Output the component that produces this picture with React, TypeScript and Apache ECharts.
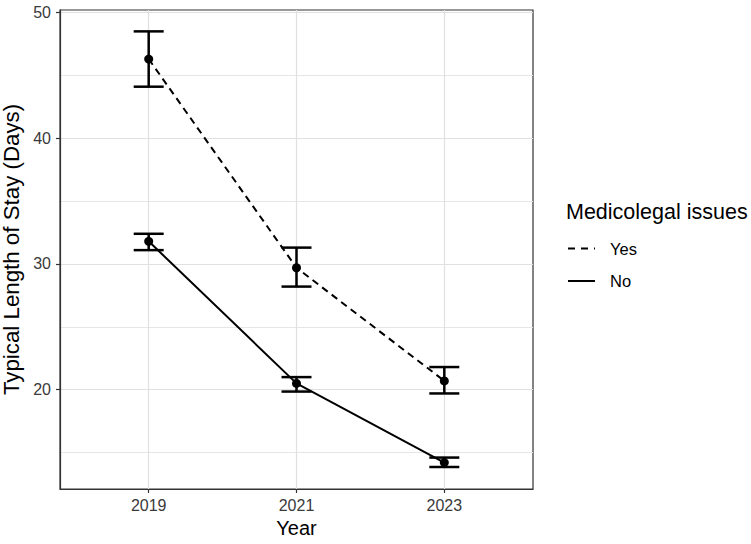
import React, { useEffect, useRef } from "react";
import * as echarts from "echarts";

const YEARS = [2019, 2021, 2023];
const YES_MEAN = [46.3, 29.7, 20.7];
const YES_LO = [44.1, 28.2, 19.7];
const YES_HI = [48.5, 31.3, 21.8];
const NO_MEAN = [31.8, 20.5, 14.2];
const NO_LO = [31.1, 19.85, 13.85];
const NO_HI = [32.4, 21.0, 14.6];
const Y_MAJOR = [20, 30, 40, 50];
const Y_MINOR = [15, 25, 35, 45];
const LEGEND_TITLE = "Medicolegal issues";
const GROUPS = ["Yes", "No"];

const FONT = "'Liberation Sans', Arial, Helvetica, sans-serif";

export default function App() {
  const ref = useRef<HTMLDivElement>(null);
  useEffect(() => {
    const chart = echarts.init(ref.current!, null, { renderer: "svg" });
    const errData = [
      ...YEARS.map((y, i) => [y, YES_LO[i], YES_HI[i]]),
      ...YEARS.map((y, i) => [y, NO_LO[i], NO_HI[i]]),
    ];
    const gridLines = [
      ...Y_MAJOR.map((v) => ({ yAxis: v, lineStyle: { color: "#e0e0e0", width: 1.2, type: "solid" } })),
      ...Y_MINOR.map((v) => ({ yAxis: v, lineStyle: { color: "#e6e6e6", width: 1, type: "solid" } })),
      ...YEARS.map((v) => ({ xAxis: v, lineStyle: { color: "#e0e0e0", width: 1.2, type: "solid" } })),
    ];
    const axisCommon = {
      axisLine: { show: true, lineStyle: { color: "#333333", width: 1.2 } },
      splitLine: { show: false },
    };
    chart.setOption({
      animation: false,
      backgroundColor: "#ffffff",
      grid: {
        left: 60,
        top: 10,
        right: 218,
        bottom: 55,
        containLabel: false,
        outerBoundsMode: "none",
        show: true,
        borderColor: "#333333",
        borderWidth: 1.2,
        backgroundColor: "transparent",
      },
      xAxis: {
        type: "value",
        min: 2017.8,
        max: 2024.2,
        name: "Year",
        nameLocation: "middle",
        nameGap: 28,
        nameTextStyle: { fontFamily: FONT, fontSize: 20, color: "#000" },
        ...axisCommon,
        axisTick: { show: true, length: 4, customValues: YEARS, lineStyle: { color: "#333", width: 1.2 } },
        axisLabel: { customValues: YEARS, margin: 8, fontFamily: FONT, fontSize: 16, color: "#3a3a3a", formatter: (v: number) => String(v) },
      },
      yAxis: {
        type: "value",
        min: 12.1,
        max: 50.2,
        name: "Typical Length of Stay (Days)",
        nameLocation: "middle",
        nameGap: 36,
        nameTextStyle: { fontFamily: FONT, fontSize: 22.3, color: "#000" },
        ...axisCommon,
        axisTick: { show: true, length: 4, customValues: Y_MAJOR, lineStyle: { color: "#333", width: 1.2 } },
        axisLabel: { customValues: Y_MAJOR, margin: 9, fontFamily: FONT, fontSize: 16, color: "#3a3a3a" },
      },
      series: [
        {
          type: "line",
          data: [],
          z: 0,
          silent: true,
          markLine: {
            z: 0,
            silent: true,
            symbol: ["none", "none"],
            label: { show: false },
            animation: false,
            data: gridLines,
          },
        },
        {
          type: "custom",
          z: 3,
          data: errData,
          renderItem: (params: any, api: any) => {
            const x = api.value(0);
            const lo = api.coord([x, api.value(1)]);
            const hi = api.coord([x, api.value(2)]);
            const w = 15;
            const mk = () => ({ stroke: "#000000", lineWidth: 2.5 });
            return {
              type: "group",
              children: [
                { type: "line", shape: { x1: lo[0], y1: lo[1], x2: hi[0], y2: hi[1] }, style: mk() },
                { type: "line", shape: { x1: lo[0] - w, y1: lo[1], x2: lo[0] + w, y2: lo[1] }, style: mk() },
                { type: "line", shape: { x1: hi[0] - w, y1: hi[1], x2: hi[0] + w, y2: hi[1] }, style: mk() },
              ],
            };
          },
        },
        {
          type: "line",
          name: GROUPS[0],
          z: 4,
          data: YEARS.map((y, i) => [y, YES_MEAN[i]]),
          symbol: "circle",
          symbolSize: 9,
          itemStyle: { color: "#000" },
          lineStyle: { color: "#000", width: 2, type: [7, 5] },
        },
        {
          type: "line",
          name: GROUPS[1],
          z: 4,
          data: YEARS.map((y, i) => [y, NO_MEAN[i]]),
          symbol: "circle",
          symbolSize: 9,
          itemStyle: { color: "#000" },
          lineStyle: { color: "#000", width: 2, type: "solid" },
        },
      ],
      graphic: [
        {
          type: "text",
          x: 566,
          y: 212,
          style: { text: LEGEND_TITLE, fontFamily: FONT, fontSize: 21.5, fill: "#000", verticalAlign: "middle" },
        },
        {
          type: "line",
          shape: { x1: 568, y1: 248.5, x2: 595, y2: 248.5 },
          style: { stroke: "#000", lineWidth: 2, lineDash: [7, 6] },
        },
        {
          type: "text",
          x: 610,
          y: 249,
          style: { text: GROUPS[0], fontFamily: FONT, fontSize: 16.5, fill: "#000", verticalAlign: "middle" },
        },
        {
          type: "line",
          shape: { x1: 568, y1: 281, x2: 595, y2: 281 },
          style: { stroke: "#000", lineWidth: 2 },
        },
        {
          type: "text",
          x: 610,
          y: 281,
          style: { text: GROUPS[1], fontFamily: FONT, fontSize: 16.5, fill: "#000", verticalAlign: "middle" },
        },
      ],
    });
    return () => chart.dispose();
  }, []);
  return <div ref={ref} style={{ width: 751, height: 544, position: "absolute", left: 0, top: 0 }} />;
}
